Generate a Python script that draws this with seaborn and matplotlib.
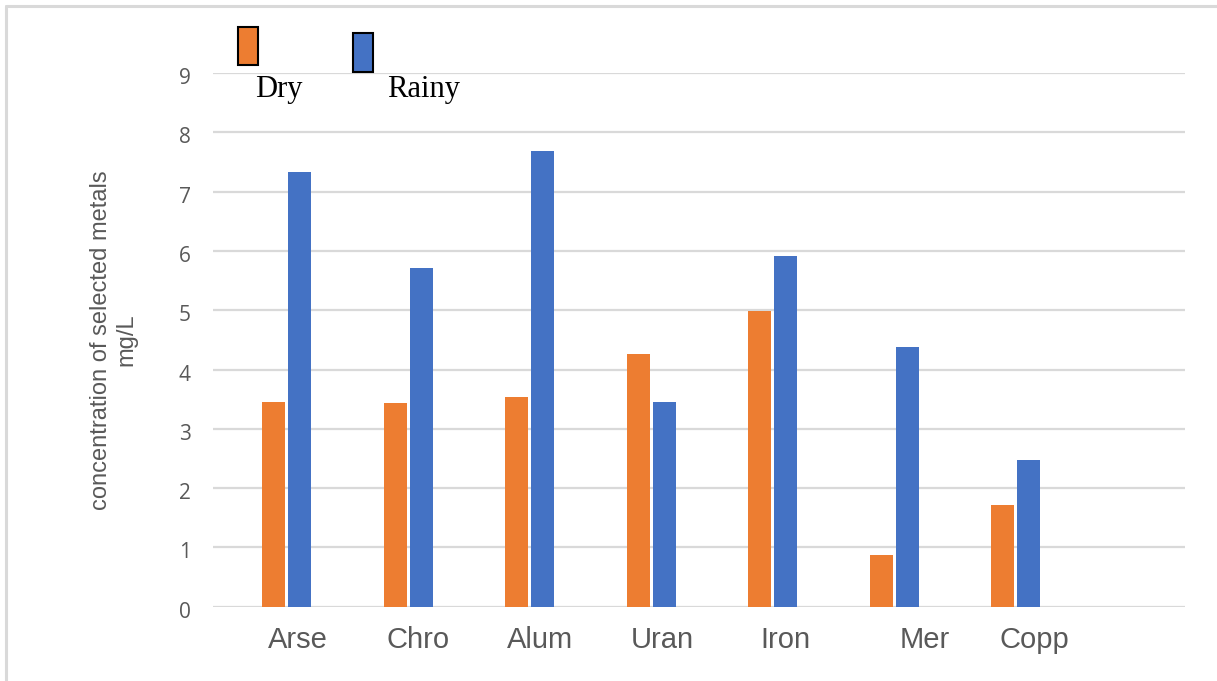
import matplotlib
matplotlib.use("Agg")
import matplotlib.pyplot as plt
from matplotlib.patches import Rectangle
from matplotlib.lines import Line2D
from matplotlib.transforms import ScaledTranslation
import pandas as pd
import seaborn as sns

# Metal concentrations (mg/L) by season
metals = ["Arse", "Chro", "Alum", "Uran", "Iron", "Mer", "Copp"]
dry = [3.45, 3.44, 3.54, 4.26, 4.99, 0.87, 1.71]
rainy = [7.33, 5.72, 7.69, 3.45, 5.92, 4.38, 2.47]
seasons = ["Dry", "Rainy"]
y_ticks = list(range(0, 10))

ORANGE = "#ED7D31"
BLUE = "#4472C4"
GREY_TEXT = "#595959"
GRID = "#d9d9d9"

df = pd.DataFrame({
    "metal": metals * 2,
    "season": ["Dry"] * len(metals) + ["Rainy"] * len(metals),
    "value": dry + rainy,
})

sns.set_theme(style="white")
plt.rcParams["font.family"] = ["Liberation Sans", "DejaVu Sans"]

fig = plt.figure(figsize=(12.17, 6.81), dpi=100)
ax = fig.add_axes([213 / 1217, 74.3 / 681, 972 / 1217, 533.6 / 681])

# An unused leading hue level keeps the dodge slots as in the original layout
hue_levels = ["_slot"] + seasons
palette = {"_slot": "white", "Dry": ORANGE, "Rainy": BLUE}
sns.barplot(data=df, x="metal", y="value", hue="season", order=metals,
            hue_order=hue_levels, palette=palette, width=0.642, gap=0.12,
            errorbar=None, legend=False, linewidth=0, saturation=1, ax=ax)

ax.set_xlim(-0.5, 7.5)
ax.set_ylim(0, 9)
ax.set_yticks(y_ticks)
ax.yaxis.grid(True, color=GRID, linewidth=1.6)
ax.set_axisbelow(True)
for s in ax.spines.values():
    s.set_visible(False)

# Category labels sit a little to the right of each group
label_nudge = [0.20, 0.187, 0.19, 0.195, 0.208, 0.36, 0.257]
ax.set_xticks([i + d for i, d in enumerate(label_nudge)])
ax.set_xticklabels(metals, fontsize=21, color=GREY_TEXT,
                   family=["Liberation Sans", "DejaVu Sans"])
ax.tick_params(axis="x", length=0, pad=14)
ax.tick_params(axis="y", length=0, pad=16, labelsize=15, labelcolor=GREY_TEXT)
shift_down = ScaledTranslation(0, -3 / 100, fig.dpi_scale_trans)
for t in ax.get_yticklabels():
    t.set_family(["Open Sans", "DejaVu Sans"])
    t.set_transform(t.get_transform() + shift_down)
ax.set_xlabel("")
ax.set_ylabel("")

fig.text(114 / 1217, 0.5007, "concentration of selected metals\nmg/L",
         rotation=90, ha="center", va="center", multialignment="center",
         fontsize=17, color=GREY_TEXT, linespacing=1.2)

# Legend: swatches with season names underneath
fig.patches.append(Rectangle((238 / 1217, 1 - 65 / 681), 20 / 1217, 38 / 681,
                             transform=fig.transFigure, facecolor=ORANGE,
                             edgecolor="black", linewidth=1.5))
fig.patches.append(Rectangle((353 / 1217, 1 - 72 / 681), 20 / 1217, 39 / 681,
                             transform=fig.transFigure, facecolor=BLUE,
                             edgecolor="black", linewidth=1.5))
serif = ["Liberation Serif", "DejaVu Serif"]
fig.text(255 / 1217, 1 - 97 / 681, seasons[0], fontsize=22, family=serif,
         color="black", va="baseline", ha="left")
fig.text(387 / 1217, 1 - 97 / 681, seasons[1], fontsize=22, family=serif,
         color="black", va="baseline", ha="left")

# Frame on the left and top edges
fig.lines.append(Line2D([6.3 / 1217, 6.3 / 1217], [0, 1 - 6 / 681],
                        transform=fig.transFigure, color=GRID, linewidth=2.2))
fig.lines.append(Line2D([6.3 / 1217, 1], [1 - 6 / 681, 1 - 6 / 681],
                        transform=fig.transFigure, color=GRID, linewidth=2.2))

fig.savefig("out.png", dpi=100, facecolor="white")
